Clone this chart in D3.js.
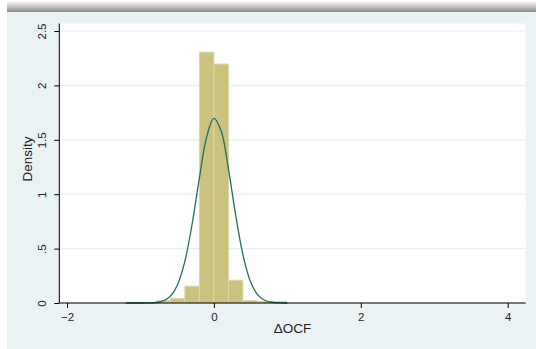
<!DOCTYPE html>
<html>
<head>
<meta charset="utf-8">
<script src="https://cdn.jsdelivr.net/npm/d3@7"></script>
<style>
  body { margin: 0; background: #fff; }
  svg { display: block; }
</style>
</head>
<body>
<svg id="chart"></svg>
<script>
// histogram of delta OCF, with normal overlay
const binEdges = [-1.185, -0.988, -0.790, -0.593, -0.395, -0.198, 0, 0.198, 0.395, 0.593, 0.790, 0.988];
const binDensity = [0.006, 0.006, 0.020, 0.043, 0.154, 2.306, 2.196, 0.209, 0.022, 0.015, 0.015];

const curveX = [-1.2, -1.1, -1.0, -0.9, -0.8, -0.7, -0.6, -0.5, -0.4, -0.3, -0.2, -0.1, 0, 0.1, 0.2, 0.3, 0.4, 0.5, 0.6, 0.7, 0.8, 0.9, 1.0];
const curveY = [0, 0, 0, 0.001, 0.004, 0.018, 0.058, 0.161, 0.371, 0.711, 1.139, 1.522, 1.697, 1.578, 1.224, 0.793, 0.429, 0.193, 0.073, 0.023, 0.006, 0.001, 0];

const xTicks = [-2, 0, 2, 4];
const yTicks = [0, 0.5, 1, 1.5, 2, 2.5];
const yTickLabels = ['0', '.5', '1', '1.5', '2', '2.5'];

const width = 536;
const height = 349;

const svg = d3.select('#chart')
    .attr('width', width)
    .attr('height', height);

const plot = {left: 59.3, right: 525.7, top: 23.5, bottom: 303};

// top shadow + graph region
const defs = svg.append('defs');
const grad = defs.append('linearGradient')
    .attr('id', 'shade')
    .attr('x1', 0).attr('y1', 0).attr('x2', 0).attr('y2', 1);
grad.append('stop').attr('offset', '0%').attr('stop-color', '#ffffff');
grad.append('stop').attr('offset', '100%').attr('stop-color', '#8a8a8a');

svg.append('rect')
    .attr('x', 7).attr('y', 1)
    .attr('width', width - 7).attr('height', 11)
    .attr('fill', 'url(#shade)');
svg.append('rect')
    .attr('x', 7).attr('y', 12)
    .attr('width', width - 7).attr('height', height - 12)
    .attr('fill', '#eaf2f3');
svg.append('rect')
    .attr('x', plot.left).attr('y', plot.top)
    .attr('width', plot.right - plot.left).attr('height', plot.bottom - plot.top)
    .attr('fill', '#ffffff');

const xScale = d3.scaleLinear()
    .domain([-2, 4])
    .range([67, 507.7]);
const yScale = d3.scaleLinear()
    .domain([0, 2.5])
    .range([plot.bottom, 31]);

// gridlines
svg.append('g')
    .selectAll('line').data(yTicks)
    .enter().append('line')
        .attr('x1', plot.left)
        .attr('x2', plot.right)
        .attr('y1', d => yScale(d))
        .attr('y2', d => yScale(d))
        .attr('stroke', '#e6eff1')
        .attr('stroke-width', 1.2);

// bars
const bins = binDensity.map((d, i) => ({x0: binEdges[i], x1: binEdges[i + 1], v: d}));
svg.append('g')
    .selectAll('rect').data(bins)
    .enter().append('rect')
        .attr('x', d => xScale(d.x0))
        .attr('y', d => yScale(d.v))
        .attr('width', d => xScale(d.x1) - xScale(d.x0))
        .attr('height', d => yScale(0) - yScale(d.v))
        .attr('fill', '#cac27e')
        .attr('stroke', '#dcd7a6')
        .attr('stroke-width', 1);

// normal density
const line = d3.line()
    .x((d, i) => xScale(curveX[i]))
    .y(d => yScale(d))
    .curve(d3.curveCatmullRom);
svg.append('path')
    .datum(curveY)
    .attr('d', line)
    .attr('fill', 'none')
    .attr('stroke', '#236c69')
    .attr('stroke-width', 1.3);

// axes
const tickFont = '11.5px "Liberation Sans", Arial, sans-serif';
const xAxis = d3.axisBottom(xScale)
    .tickValues(xTicks)
    .tickSize(5)
    .tickSizeOuter(0)
    .tickFormat(d3.format('d'));
const gx = svg.append('g')
    .attr('transform', `translate(0,${plot.bottom})`)
    .call(xAxis);
gx.select('.domain').attr('d', `M${plot.left},0H${plot.right}`);
gx.selectAll('.tick text')
    .attr('y', 17.8)
    .attr('dy', null)
    .attr('fill', '#222')
    .style('font', tickFont);

const yAxis = d3.axisLeft(yScale)
    .tickValues(yTicks)
    .tickSize(5)
    .tickSizeOuter(0)
    .tickFormat((d, i) => yTickLabels[i]);
const gy = svg.append('g')
    .attr('transform', `translate(${plot.left},0)`)
    .call(yAxis);
gy.select('.domain').attr('d', `M0,${plot.top}V${plot.bottom}`);
gy.selectAll('.tick text')
    .attr('transform', 'rotate(-90)')
    .attr('x', 0)
    .attr('y', -13.3)
    .attr('dy', null)
    .attr('text-anchor', 'middle')
    .attr('fill', '#222')
    .style('font', tickFont);

svg.selectAll('.domain, .tick line').attr('stroke', '#000');

// titles
const titleFont = '13.5px "Liberation Sans", Arial, sans-serif';
svg.append('text')
    .attr('x', 292.5)
    .attr('y', 332.5)
    .attr('text-anchor', 'middle')
    .attr('fill', '#222')
    .style('font', titleFont)
    .text('ΔOCF');
svg.append('text')
    .attr('transform', 'translate(32,159) rotate(-90)')
    .attr('text-anchor', 'middle')
    .attr('fill', '#222')
    .style('font', titleFont)
    .text('Density');
</script>
</body>
</html>
